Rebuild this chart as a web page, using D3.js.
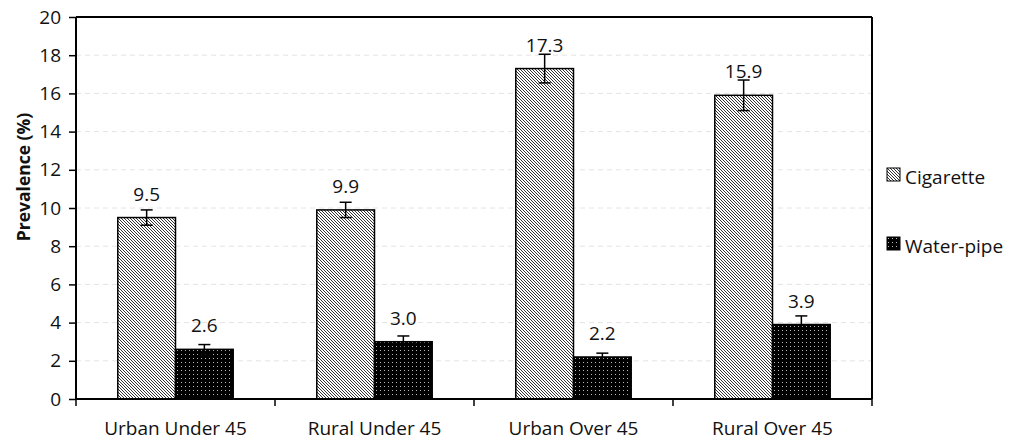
<!DOCTYPE html>
<html>
<head>
<meta charset="utf-8">
<script src="https://cdn.jsdelivr.net/npm/d3@7"></script>
<style>
  body { margin: 0; background: #fff; }
  text { font-family: "Open Sans", "Liberation Sans", sans-serif; fill: #111; }
</style>
</head>
<body>
<div id="viz"></div>
<script>
// data
var categories = ["Urban Under 45", "Rural Under 45", "Urban Over 45", "Rural Over 45"];
var seriesNames = ["Cigarette", "Water-pipe"];
var cigarette = [9.5, 9.9, 17.3, 15.9];
var waterpipe = [2.6, 3.0, 2.2, 3.9];
var cigaretteErr = [0.4, 0.4, 0.75, 0.8];
var waterpipeErr = [0.25, 0.3, 0.2, 0.45];
var yTicks = [0, 2, 4, 6, 8, 10, 12, 14, 16, 18, 20];

var margin = { top: 17, right: 139, bottom: 42, left: 76 },
  width = 1011 - margin.left - margin.right,
  height = 441 - margin.top - margin.bottom;

var svg = d3
  .select("#viz")
  .append("svg")
  .attr("width", 1011)
  .attr("height", 441);

// fill patterns
var defs = svg.append("defs");
var hatch = defs
  .append("pattern")
  .attr("id", "hatch")
  .attr("patternUnits", "userSpaceOnUse")
  .attr("width", 3)
  .attr("height", 3);
hatch.append("rect").attr("width", 3).attr("height", 3).attr("fill", "#fff");
hatch
  .append("path")
  .attr("d", "M0,0 L3,3 M-1,2 L1,4 M2,-1 L4,1")
  .attr("stroke", "#333")
  .attr("stroke-width", 1);

var dots = defs
  .append("pattern")
  .attr("id", "dots")
  .attr("patternUnits", "userSpaceOnUse")
  .attr("width", 4)
  .attr("height", 4);
dots.append("rect").attr("width", 4).attr("height", 4).attr("fill", "#000");
dots
  .append("rect")
  .attr("x", 1)
  .attr("y", 1)
  .attr("width", 1)
  .attr("height", 1)
  .attr("fill", "#bbb");

var g = svg
  .append("g")
  .attr("transform", "translate(" + margin.left + "," + margin.top + ")");

var x = d3.scaleBand().domain(categories).range([0, width]).paddingInner(0).paddingOuter(0);
var xs = d3
  .scaleBand()
  .domain(seriesNames)
  .range([x.bandwidth() * 0.21, x.bandwidth() * 0.79]);
var y = d3.scaleLinear().domain([0, 20]).range([height, 0]);

// grid
g.selectAll(".grid")
  .data(yTicks.filter((d) => d > 0 && d < 20))
  .enter()
  .append("line")
  .attr("x1", 0)
  .attr("x2", width)
  .attr("y1", (d) => y(d))
  .attr("y2", (d) => y(d))
  .attr("stroke", "#e4e4e4")
  .attr("stroke-dasharray", "5,4");

// box
g.append("line").attr("x1", 0).attr("x2", width).attr("y1", 0).attr("y2", 0)
  .attr("stroke", "#000").attr("stroke-width", 2);
g.append("line").attr("x1", width).attr("x2", width).attr("y1", 0).attr("y2", height)
  .attr("stroke", "#000").attr("stroke-width", 2);

var rows = categories.map((c, i) => ({
  cat: c,
  vals: [
    { s: "Cigarette", v: cigarette[i], e: cigaretteErr[i], fill: "url(#hatch)" },
    { s: "Water-pipe", v: waterpipe[i], e: waterpipeErr[i], fill: "url(#dots)" },
  ],
}));

var grp = g
  .selectAll(".grp")
  .data(rows)
  .enter()
  .append("g")
  .attr("transform", (d) => "translate(" + x(d.cat) + ",0)");

var bar = grp
  .selectAll(".bar")
  .data((d) => d.vals)
  .enter()
  .append("g");

bar
  .append("rect")
  .attr("x", (d) => xs(d.s))
  .attr("width", xs.bandwidth())
  .attr("y", (d) => y(d.v))
  .attr("height", (d) => height - y(d.v))
  .attr("fill", (d) => d.fill)
  .attr("stroke", "#000")
  .attr("stroke-width", 1.5);

// value labels (drawn before error bars, like the original)
var cx = (d) => xs(d.s) + xs.bandwidth() / 2;
bar
  .append("text")
  .attr("x", cx)
  .attr("y", (d) => y(d.v) - 17)
  .attr("text-anchor", "middle")
  .style("font-size", "19px")
  .text((d) => d3.format(".1f")(d.v));

// error bars
bar
  .append("line")
  .attr("x1", cx)
  .attr("x2", cx)
  .attr("y1", (d) => y(d.v + d.e))
  .attr("y2", (d) => y(d.v - d.e))
  .attr("stroke", "#000")
  .attr("stroke-width", 1.5);
[1, -1].forEach((k) => {
  bar
    .append("line")
    .attr("x1", (d) => cx(d) - 6)
    .attr("x2", (d) => cx(d) + 6)
    .attr("y1", (d) => y(d.v + k * d.e))
    .attr("y2", (d) => y(d.v + k * d.e))
    .attr("stroke", "#000")
    .attr("stroke-width", 1.5);
});

// axes
var yAxis = d3.axisLeft(y).tickValues(yTicks).tickSize(7).tickPadding(8).tickFormat(d3.format("d"));
var ya = g.append("g").call(yAxis);
ya.select(".domain").attr("stroke-width", 2).attr("d", "M0," + height + "V0");
ya.selectAll(".tick line").attr("stroke-width", 1.5);
ya.selectAll("text").style("font-size", "19px").style("font-family", "'Open Sans', sans-serif").attr("fill", "#111");

var xa = g.append("g").attr("transform", "translate(0," + height + ")");
xa.append("line").attr("x1", 0).attr("x2", width).attr("stroke", "#000").attr("stroke-width", 2);
xa.selectAll(".xt")
  .data(d3.range(categories.length + 1))
  .enter()
  .append("line")
  .attr("x1", (i) => i * x.step())
  .attr("x2", (i) => i * x.step())
  .attr("y1", 0)
  .attr("y2", 7)
  .attr("stroke", "#000")
  .attr("stroke-width", 1.5);
xa.selectAll(".xl")
  .data(categories)
  .enter()
  .append("text")
  .attr("x", (d) => x(d) + x.bandwidth() / 2)
  .attr("y", 36)
  .attr("text-anchor", "middle")
  .style("font-size", "19px")
  .text((d) => d);

// axis label
g.append("text")
  .attr("transform", "rotate(-90)")
  .attr("x", -160)
  .attr("y", -64)
  .attr("dy", "1em")
  .style("text-anchor", "middle")
  .style("font-weight", "bold")
  .style("font-size", "17.5px")
  .text("Prevalence (%)");

// legend
var legend = svg
  .selectAll(".legend")
  .data(seriesNames)
  .enter()
  .append("g")
  .attr("transform", (d, i) => "translate(887," + (168 + i * 69) + ")");
legend
  .append("rect")
  .attr("width", 13)
  .attr("height", 13)
  .attr("fill", (d, i) => (i === 0 ? "url(#hatch)" : "url(#dots)"))
  .attr("stroke", "#000")
  .attr("stroke-width", 1);
legend
  .append("text")
  .attr("x", 18)
  .attr("y", 16)
  .style("font-size", "19px")
  .text((d) => d);
</script>
</body>
</html>
